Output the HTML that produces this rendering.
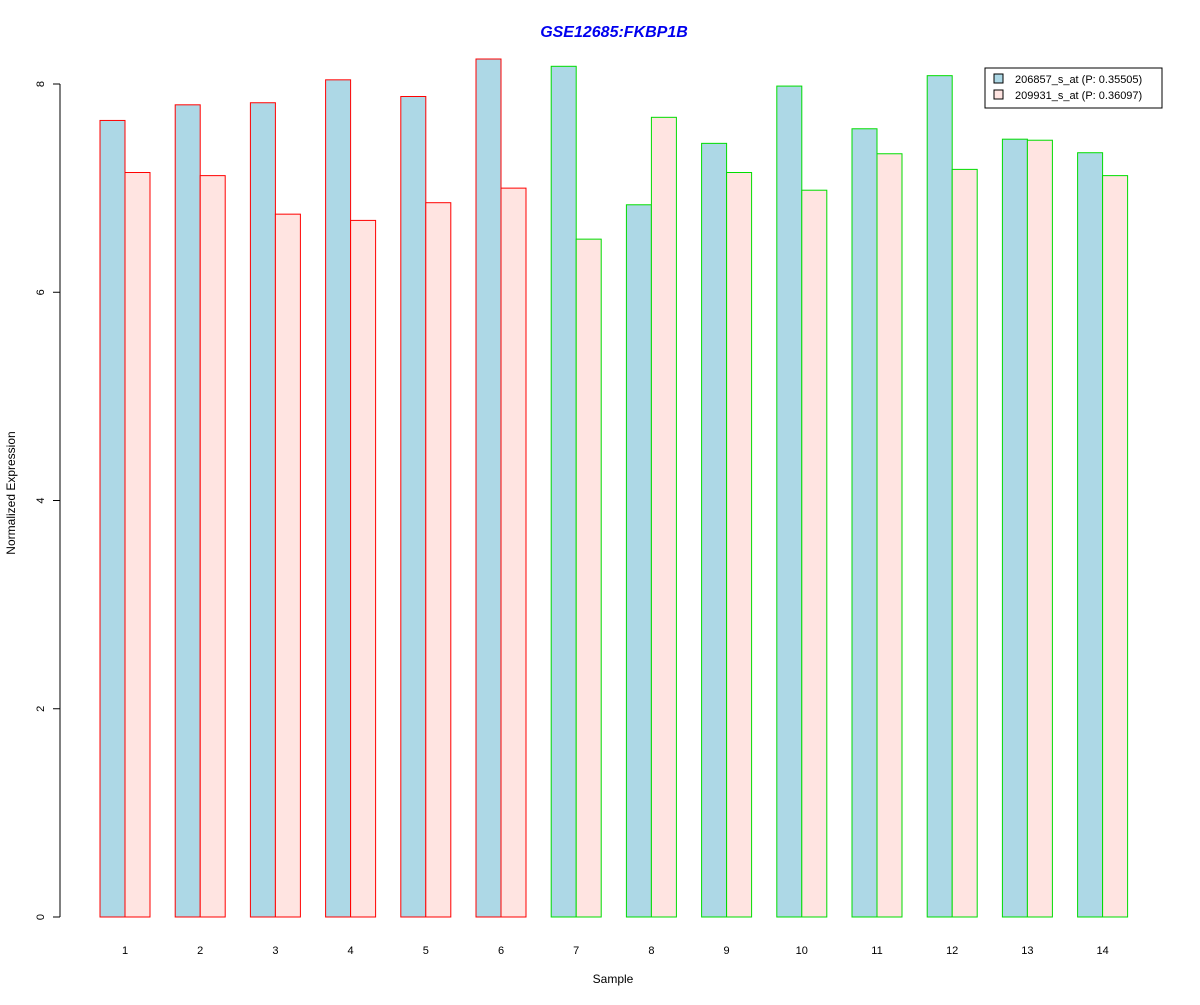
<!DOCTYPE html>
<html><head><meta charset="utf-8"><style>
body{margin:0;background:#fff;}
svg text{font-family:"Liberation Sans",Arial,sans-serif;}
</style></head><body>
<svg id="chart" width="1200" height="1000" xmlns="http://www.w3.org/2000/svg">
<rect width="1200" height="1000" fill="#fff"/>
<text x="614" y="37" text-anchor="middle" font-size="16" font-weight="bold" font-style="italic" fill="#0000ee">GSE12685:FKBP1B</text>
<text x="613" y="983" text-anchor="middle" font-size="12">Sample</text>
<text transform="translate(15,493) rotate(-90)" text-anchor="middle" font-size="12">Normalized Expression</text>
<g id="bars"></g>
<g id="yaxis"></g>
<g id="xlabels"></g>
<g>
<rect x="985" y="68" width="177" height="40" fill="#fff" stroke="#000" stroke-width="1"/>
<rect x="994" y="74" width="9" height="9" fill="#add8e6" stroke="#000"/>
<text x="1015" y="83" font-size="11">206857_s_at (P: 0.35505)</text>
<rect x="994" y="90" width="9" height="9" fill="#ffe4e1" stroke="#000"/>
<text x="1015" y="99" font-size="11">209931_s_at (P: 0.36097)</text>
</g>
</svg>
<script>
const categories=["1","2","3","4","5","6","7","8","9","10","11","12","13","14"];
const series1=[7.65,7.80,7.82,8.04,7.88,8.24,8.17,6.84,7.43,7.98,7.57,8.08,7.47,7.34];
const series2=[7.15,7.12,6.75,6.69,6.86,7.00,6.51,7.68,7.15,6.98,7.33,7.18,7.46,7.12];
const groupColor=["red","red","red","red","red","red","#00dd00","#00dd00","#00dd00","#00dd00","#00dd00","#00dd00","#00dd00","#00dd00"];
const yTicks=[0,2,4,6,8];
const NS="http://www.w3.org/2000/svg";
const y=v=>917-v*104.125;
const gx=i=>100+i*75.2;
const bw=25;
const bars=document.getElementById('bars');
function mk(t,a,p){const e=document.createElementNS(NS,t);for(const k in a)e.setAttribute(k,a[k]);p.appendChild(e);return e;}
categories.forEach((c,i)=>{
 const r1=mk('rect',{x:gx(i),y:y(series1[i]),width:bw,height:y(0)-y(series1[i]),fill:'#add8e6',stroke:groupColor[i]},bars);
 
 
 const r2=mk('rect',{x:gx(i)+bw,y:y(series2[i]),width:bw,height:y(0)-y(series2[i]),fill:'#ffe4e1',stroke:groupColor[i]},bars);
 
 
 const t=mk('text',{x:gx(i)+bw,y:954,'text-anchor':'middle','font-size':11},document.getElementById('xlabels'));
 t.textContent=c;
 
 
});
const ya=document.getElementById('yaxis');
mk('line',{x1:60,x2:60,y1:y(0),y2:y(8),stroke:'#000'},ya);
yTicks.forEach(v=>{
 mk('line',{x1:53,x2:60,y1:y(v),y2:y(v),stroke:'#000'},ya);
 const t=mk('text',{transform:`translate(44,${y(v)}) rotate(-90)`,'text-anchor':'middle','font-size':11},ya);
 t.textContent=v;
 
 
});
</script>
</body></html>
